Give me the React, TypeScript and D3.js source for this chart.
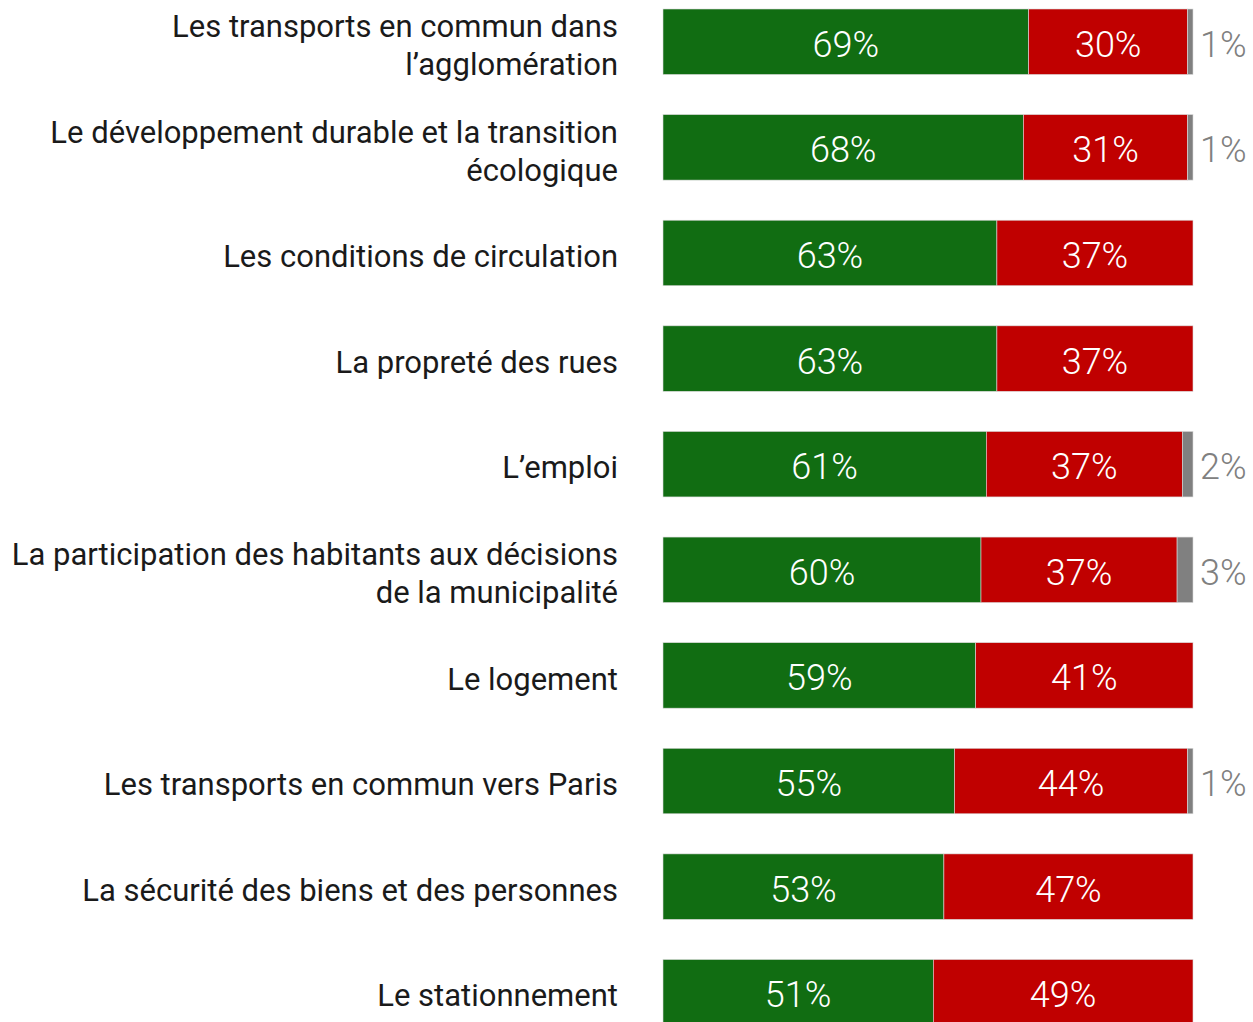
import { useEffect, useRef } from 'react';
import * as d3 from 'd3';

// Survey items (label lines as shown on the chart)
const categories = [
  ['Les transports en commun dans', 'l’agglomération'],
  ['Le développement durable et la transition', 'écologique'],
  ['Les conditions de circulation'],
  ['La propreté des rues'],
  ['L’emploi'],
  ['La participation des habitants aux décisions', 'de la municipalité'],
  ['Le logement'],
  ['Les transports en commun vers Paris'],
  ['La sécurité des biens et des personnes'],
  ['Le stationnement'],
];

const satisfied = [69, 68, 63, 63, 61, 60, 59, 55, 53, 51];
const dissatisfied = [30, 31, 37, 37, 37, 37, 41, 44, 47, 49];
const noAnswer = [1, 1, 0, 0, 2, 3, 0, 1, 0, 0];

const GREEN = '#116d12';
const RED = '#c00000';
const GREY = '#808080';

export default function App() {
  const svgRef = useRef<SVGSVGElement>(null);

  useEffect(() => {
    const width = 1253;
    const height = 1022;
    const svg = d3.select(svgRef.current);
    svg.selectAll('*').remove();
    svg.attr('width', width).attr('height', height);

    const keys = categories.map((c) => c.join(' '));
    const rows = keys.map((k, i) => ({
      key: k,
      lines: categories[i],
      values: [satisfied[i], dissatisfied[i], noAnswer[i]],
    }));

    const x = d3.scaleLinear().domain([0, 100]).range([663, 1193]);
    const y = d3.scaleBand().domain(keys).range([9, 1025]).paddingInner(0.38).paddingOuter(0);
    const colors = [GREEN, RED, GREY];

    const row = svg
      .selectAll('g.row')
      .data(rows)
      .enter()
      .append('g')
      .attr('class', 'row')
      .attr('transform', (d) => `translate(0,${y(d.key)})`);

    row.each(function (d) {
      const g = d3.select(this);
      let acc = 0;
      d.values.forEach((v, j) => {
        if (v <= 0) return;
        const x0 = x(acc);
        const x1 = x(acc + v);
        acc += v;
        g.append('rect')
          .attr('x', x0)
          .attr('y', 0)
          .attr('width', x1 - x0)
          .attr('height', y.bandwidth())
          .attr('fill', colors[j])
          .attr('stroke', '#d9d9d9')
          .attr('stroke-width', 0.6);

        const inside = j < 2;
        g.append('text')
          .attr('x', inside ? (x0 + x1) / 2 : 1200)
          .attr('y', y.bandwidth() / 2 + 2)
          .attr('dy', '0.36em')
          .attr('text-anchor', inside ? 'middle' : 'start')
          .style('font-family', 'Roboto, sans-serif')
          .style('font-weight', 300)
          .style('font-size', '36px')
          .style('fill', inside ? '#ffffff' : GREY)
          .text(`${v}%`);
      });

      // category label, right aligned
      const lineH = 38;
      const n = d.lines.length;
      const text = g
        .append('text')
        .attr('text-anchor', 'end')
        .style('font-family', 'Roboto, sans-serif')
        .style('font-size', '31px')
        .style('fill', '#1a1a1a');
      d.lines.forEach((line, k) => {
        text
          .append('tspan')
          .attr('x', 618)
          .attr('y', y.bandwidth() / 2 + 3 + (k - (n - 1) / 2) * lineH)
          .attr('dy', '0.36em')
          .text(line);
      });
    });
  }, []);

  return (
    <div style={{ position: 'absolute', left: 0, top: 0 }}>
      <svg ref={svgRef}></svg>
    </div>
  );
}
